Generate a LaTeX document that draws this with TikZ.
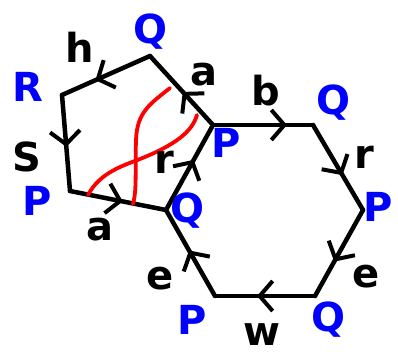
\documentclass[tikz,border=0pt]{standalone}
\usepackage{fontspec}
\setmainfont{DejaVu Sans}
\usetikzlibrary{arrows.meta,decorations.markings}

\begin{document}
\begin{tikzpicture}[x=1pt, y=-1pt,
  side/.style={line width=4.5pt, line cap=round, postaction={decorate},
    decoration={markings, mark=at position #1 with
      {\arrow{Straight Barb[length=13pt,width=30pt,line width=4pt]}}}},
  side/.default=0.58,
  lbl/.style={font=\fontsize{40}{40}\selectfont\bfseries, inner sep=0pt},
  pt/.style={lbl, text=blue},
  cut/.style={draw=red, line width=3.8pt, line cap=round},
]
\useasboundingbox (0,0) rectangle (398,361);
% pentagon corners
\coordinate (ptop) at (150,56);
\coordinate (pleft) at (62,95);
\coordinate (pbot) at (70,191);
% hexagon corners (hq and hp are shared with the pentagon)
\coordinate (hq) at (166,210);
\coordinate (hp) at (213,125);
\coordinate (htr) at (313,125);
\coordinate (hr) at (363,210);
\coordinate (hbr) at (315,296);
\coordinate (hbl) at (215,296);
% sides
\draw[side=0.62] (ptop) -- (pleft);
\draw[side=0.54] (pleft) -- (pbot);
\draw[side=0.55] (pbot) -- (hq);
\draw[side=0.48] (hp) -- (ptop);
\draw[side=0.59] (hq) -- (hp);
\draw[side=0.74] (hp) -- (htr);
\draw[side=0.59] (htr) -- (hr);
\draw[side=0.6]  (hr) -- (hbr);
\draw[side=0.58] (hbr) -- (hbl);
\draw[side=0.53] (hbl) -- (hq);
% red curves
\coordinate (c1a) at (170,88);
\coordinate (c1b) at (133,204);
\coordinate (c2a) at (88,195);
\coordinate (c2b) at (197,115);
\draw[cut] (c1a) .. controls (150,104) and (137,112) .. (136,140)
  .. controls (135,170) and (137,190) .. (c1b);
\draw[cut] (c2a) .. controls (100,172) and (125,165) .. (140,159)
  .. controls (175,145) and (192,132) .. (c2b);
% side labels
\node[lbl] (lh) at (80,47) {h};
\node[lbl] (ls) at (27,157) {S};
\node[lbl] (la1) at (100,230) {a};
\node[lbl] (la2) at (204,75) {a};
\node[lbl] (lr1) at (164,162) {r};
\node[lbl] (lb) at (266,91) {b};
\node[lbl] (lr2) at (364,157) {r};
\node[lbl] (le1) at (366,277) {e};
\node[lbl] (lw) at (262,335) {w};
\node[lbl] (le2) at (160,279) {e};
% corner labels
\node[pt] (q1) at (150,32) {Q};
\node[pt] (r1) at (28,87) {R};
\node[pt] (p1) at (37,201) {P};
\node[pt] (q2) at (187,211) {Q};
\node[pt] (p2) at (226,143) {P};
\node[pt] (q3) at (333,103) {Q};
\node[pt] (p3) at (378,207) {P};
\node[pt] (q4) at (328,320) {Q};
\node[pt] (p4) at (192,320) {P};
\end{tikzpicture}
\end{document}
